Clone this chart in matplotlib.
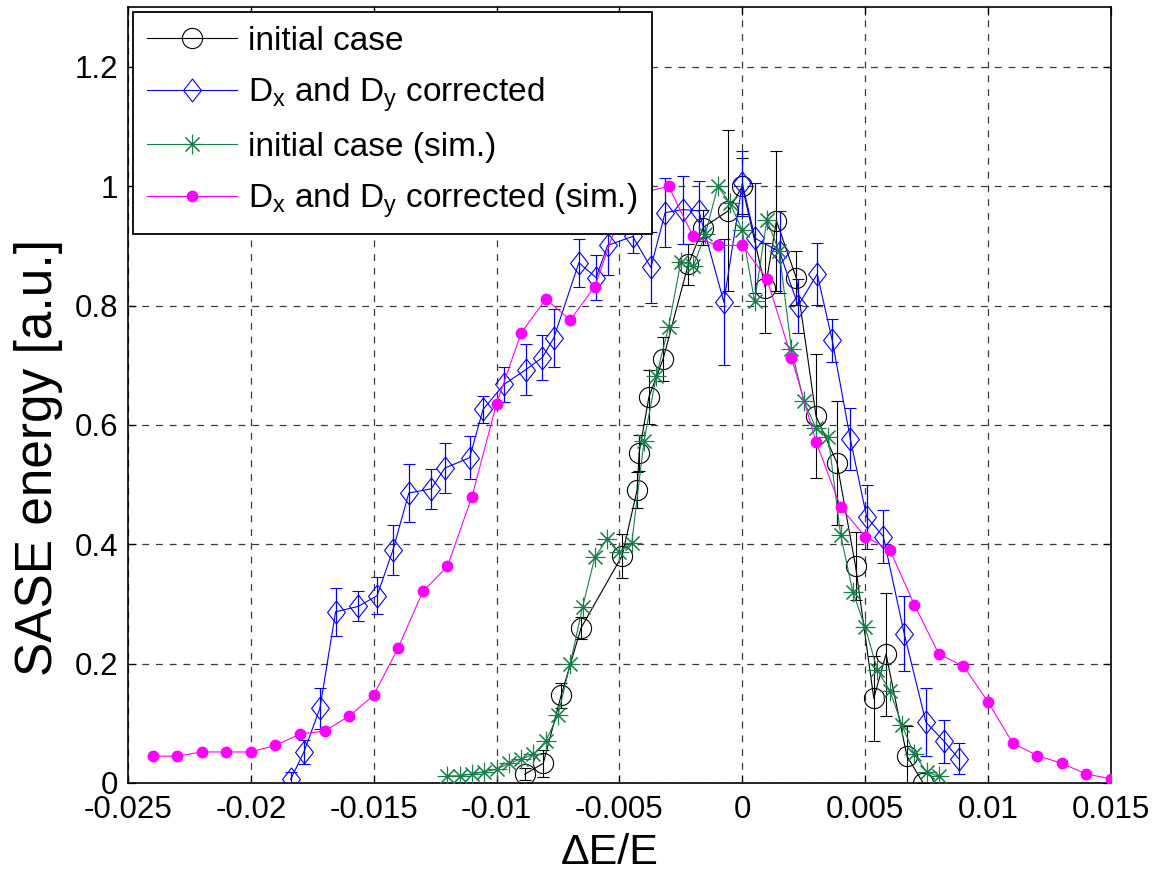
import numpy as np
import matplotlib
matplotlib.use("Agg")
import matplotlib.pyplot as plt
from matplotlib.path import Path

plt.rcParams['font.family'] = ['Liberation Sans', 'DejaVu Sans']
plt.rcParams['mathtext.default'] = 'regular'
plt.rcParams['axes.unicode_minus'] = False

# ---------------- data ----------------
# measured: initial case
init_x = [-0.00886, -0.0081, -0.00737, -0.00656, -0.00489, -0.00428, -0.0042, -0.0038,
          -0.00322, -0.0022, -0.00159, -0.00057, 0.0, 0.00094, 0.00139, 0.0022, 0.0030,
          0.00385, 0.00461, 0.00535, 0.00585, 0.0067, 0.00736]
init_y = [0.0145, 0.033, 0.147, 0.260, 0.381, 0.491, 0.553, 0.647, 0.711, 0.869, 0.931,
          0.959, 1.0, 0.830, 0.942, 0.846, 0.615, 0.537, 0.363, 0.142, 0.216, 0.045, 0.0]
init_err = [0.010, 0.023, 0.021, 0.018, 0.037, 0.03, 0.03, 0.045, 0.037, 0.034, 0.03,
            0.135, 0.047, 0.075, 0.117, 0.045, 0.104, 0.104, 0.057, 0.071, 0.103, 0.05, 0.0]

# measured: Dx and Dy corrected
corr_x = [-0.01838, -0.01784, -0.01719, -0.01655, -0.01563, -0.01486, -0.01422, -0.01357,
          -0.01266, -0.0121, -0.0111, -0.01055, -0.0097, -0.0088, -0.00814, -0.00767,
          -0.00665, -0.00595, -0.00548, -0.00446, -0.00372, -0.00314, -0.00242, -0.00177,
          -0.00075, 0.0, 0.00052, 0.00152, 0.00227, 0.00305, 0.00366, 0.0044, 0.00506,
          0.00574, 0.00659, 0.00747, 0.00821, 0.0088]
corr_y = [0.006, 0.052, 0.125, 0.287, 0.296, 0.314, 0.390, 0.486, 0.493, 0.528, 0.545,
          0.626, 0.668, 0.693, 0.713, 0.746, 0.872, 0.847, 0.901, 0.916, 0.864, 0.956,
          0.961, 0.959, 0.806, 1.005, 0.913, 0.890, 0.80, 0.853, 0.742, 0.576, 0.446,
          0.413, 0.250, 0.102, 0.070, 0.041]
corr_err = [0.012, 0.02, 0.035, 0.04, 0.025, 0.031, 0.042, 0.049, 0.033, 0.042, 0.036,
            0.022, 0.030, 0.042, 0.038, 0.048, 0.04, 0.038, 0.05, 0.028, 0.06, 0.058,
            0.057, 0.05, 0.106, 0.054, 0.092, 0.068, 0.045, 0.052, 0.036, 0.052, 0.053,
            0.045, 0.063, 0.057, 0.036, 0.026]

# simulation: initial case
sim_init_x = [-0.0120, -0.0115, -0.0110, -0.0105, -0.0100, -0.0095, -0.0090, -0.0085,
              -0.0080, -0.0075, -0.0070, -0.0065, -0.0060, -0.0055, -0.0050, -0.0045,
              -0.0040, -0.0035, -0.0030, -0.0025, -0.0020, -0.0015, -0.0010, -0.0005,
              0.0, 0.0005, 0.0010, 0.0015, 0.0020, 0.0025, 0.0030, 0.0035, 0.0040,
              0.0045, 0.0050, 0.0055, 0.0060, 0.0065, 0.0070, 0.0075, 0.0080]
sim_init_y = [0.012, 0.012, 0.015, 0.019, 0.023, 0.033, 0.040, 0.048, 0.070, 0.114,
              0.200, 0.295, 0.378, 0.409, 0.387, 0.402, 0.573, 0.682, 0.764, 0.874,
              0.866, 0.920, 1.000, 0.972, 0.926, 0.807, 0.944, 0.891, 0.727, 0.640,
              0.595, 0.580, 0.416, 0.320, 0.261, 0.189, 0.155, 0.097, 0.048, 0.019, 0.011]

# simulation: Dx and Dy corrected
sim_corr_x = [-0.024, -0.023, -0.022, -0.021, -0.020, -0.019, -0.018, -0.017, -0.016,
              -0.015, -0.014, -0.013, -0.012, -0.011, -0.010, -0.009, -0.008, -0.007,
              -0.006, -0.005, -0.004, -0.003, -0.002, -0.001, 0.0, 0.001, 0.002, 0.003,
              0.004, 0.005, 0.006, 0.007, 0.008, 0.009, 0.010, 0.011, 0.012, 0.013,
              0.014, 0.015]
sim_corr_y = [0.045, 0.045, 0.052, 0.052, 0.052, 0.063, 0.082, 0.087, 0.112, 0.147,
              0.227, 0.321, 0.363, 0.480, 0.636, 0.754, 0.811, 0.776, 0.832, 0.95,
              0.99, 1.0, 0.916, 0.901, 0.901, 0.845, 0.713, 0.572, 0.462, 0.413,
              0.391, 0.299, 0.216, 0.196, 0.136, 0.067, 0.046, 0.033, 0.015, 0.007]

x_ticks = [-0.025, -0.02, -0.015, -0.01, -0.005, 0, 0.005, 0.01, 0.015]
x_tick_labels = ['-0.025', '-0.02', '-0.015', '-0.01', '-0.005', '0', '0.005', '0.01', '0.015']
y_ticks = [0, 0.2, 0.4, 0.6, 0.8, 1.0, 1.2]
y_tick_labels = ['0', '0.2', '0.4', '0.6', '0.8', '1', '1.2']

labels = ['initial case', r'D$_x$ and D$_y$ corrected', 'initial case (sim.)',
          r'D$_x$ and D$_y$ corrected (sim.)']

# ---------------- styling ----------------
BLUE = '#0000ff'
GREEN = '#17804a'
MAGENTA = '#ff00ff'
diamond = Path([(0, 1), (0.78, 0), (0, -1), (-0.78, 0), (0, 1)],
               [Path.MOVETO, Path.LINETO, Path.LINETO, Path.LINETO, Path.CLOSEPOLY])

fig = plt.figure(figsize=(11.59, 8.73), dpi=100)
ax = fig.add_axes([0.1104, 0.1031, 0.8481, 0.8885])

eb1 = ax.errorbar(init_x, init_y, yerr=init_err, color='black', lw=0.8,
                  marker='o', ms=14.5, mfc='none', mec='black', mew=0.8,
                  capsize=4, elinewidth=0.8, capthick=0.8, zorder=3)
eb2 = ax.errorbar(corr_x, corr_y, yerr=corr_err, color=BLUE, lw=0.8,
                  marker=diamond, ms=16.5, mfc='none', mec=BLUE, mew=0.8,
                  capsize=4.5, elinewidth=0.9, capthick=0.9, zorder=4)
l3, = ax.plot(sim_init_x, sim_init_y, color=GREEN, lw=0.8, marker=(8, 2, 0),
              ms=14, mec=GREEN, mew=0.8, zorder=5)
l4, = ax.plot(sim_corr_x, sim_corr_y, color=MAGENTA, lw=0.8, marker='o',
              ms=7.5, mfc=MAGENTA, mec=MAGENTA, zorder=6)

ax.set_xlim(-0.025, 0.015)
ax.set_ylim(0, 1.3)
ax.set_xticks(x_ticks)
ax.set_xticklabels(x_tick_labels)
ax.set_yticks(y_ticks)
ax.set_yticklabels(y_tick_labels)
ax.tick_params(direction='in', top=True, right=True, length=6, width=0.9,
               labelsize=22.5, colors='black')
ax.tick_params(axis='x', pad=9)
ax.tick_params(axis='y', pad=7)
for s in ax.spines.values():
    s.set_linewidth(1.2)
    s.set_color('black')

ax.grid(True, color='#3a3a3a', linestyle=(0, (5.5, 5.5)), linewidth=0.9)
ax.set_axisbelow(True)

ax.set_xlabel('ΔE/E', fontsize=31)
ax.xaxis.set_label_coords(0.49, -0.064)
ax.xaxis.label.set_va('top')
ax.set_ylabel('SASE energy [a.u.]', fontsize=37)
ax.yaxis.set_label_coords(-0.066, 0.42)

leg = ax.legend([eb1.lines[0], eb2.lines[0], l3, l4], labels, loc='upper left',
                bbox_to_anchor=(0.005, 0.994), borderaxespad=0, fontsize=24,
                handlelength=2.7, handletextpad=0.34, labelspacing=0.55,
                borderpad=0.42, fancybox=False, framealpha=1, edgecolor='black')
leg.get_frame().set_linewidth(1.3)
leg.set_zorder(10)

fig.savefig('out.png', dpi=100)
